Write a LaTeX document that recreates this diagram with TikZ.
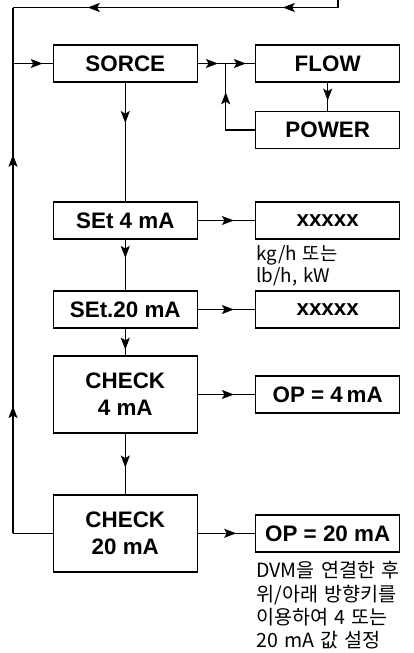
\documentclass[tikz,border=0pt]{standalone}
\usepackage{fontspec}
\setmainfont{Liberation Sans}
\newfontfamily\kr{Noto Sans CJK KR}[WordSpace=1.4]
\usetikzlibrary{arrows.meta, positioning, decorations.markings}

\begin{document}
\begin{tikzpicture}[
          x=0.5pt, y=-0.5pt,
          node distance=28.5pt,
          box/.style={rectangle, draw=black, line width=0.7pt, minimum width=72pt, minimum height=18.5pt, inner sep=0pt, align=center, font=\bfseries\fontsize{11.2}{13.5}\selectfont},
          tallbox/.style={box, minimum height=38.5pt},
          note/.style={anchor=north west, inner sep=0pt, align=left},
          line/.style={line width=0.7pt},
          midarrow/.style={postaction={decorate, decoration={markings, mark=at position #1 with {\arrow{Stealth[length=6pt, width=4.5pt, inset=1.3pt]}}}}}
        ]
          \useasboundingbox (0,0) rectangle (413,653);
          % left column
          \node[box] (sorce) at (125.3,63.5) {SORCE};
          \node[box, below=59.3pt of sorce] (set4) {SEt 4 mA};
          \node[box, below=25.3pt of set4] (set20) {SEt.20 mA};
          \node[tallbox, below=13.3pt of set20] (chk4) {CHECK\\4 mA};
          \node[tallbox, below=30.2pt of chk4] (chk20) {CHECK\\20 mA};
          % right column
          \node[box, right=of sorce] (flow) {FLOW};
          \node[box, below=14pt of flow] (power) {POWER};
          \node[box, right=of set4] (val4) {xxxxx};
          \node[box, right=of set20] (val20) {xxxxx};
          \node[box, right=of chk4] (op4) {OP = 4\,mA};
          \node[box, right=of chk20] (op20) {OP = 20 mA};
          % notes
          \node[note, font=\kr\fontsize{9.4}{6.8}\selectfont] (unit) at (256,245) {kg/h 또는\\lb/h, kW};
          \node[note, font=\kr\fontsize{9.8}{11.7}\selectfont] (hint) at (256,561) {DVM을 연결한 후\\위/아래 방향키를\\이용하여 4 또는\\20 mA 값 설정};
          % loop points
          \coordinate (top) at (338,0);
          \coordinate (tr) at (338,7.5);
          \coordinate (tl) at (13,7.5);
          \coordinate (jl) at (tl |- sorce.west);
          \coordinate (bl) at (tl |- chk20.west);
          \coordinate (jn) at (225.7,63.5);
          % connectors
          \draw[line] (top) -- (tr);
          \draw[line, midarrow=0.17, midarrow=0.77] (tr) -- (tl);
          \draw[line, midarrow=0.242, midarrow=0.72] (bl) -- (tl);
          \draw[line] (chk20.west) -- (bl);
          \draw[line, midarrow=0.75] (jl) -- (sorce.west);
          \draw[line, midarrow=0.35, midarrow=0.84] (sorce.east) -- (flow.west);
          \draw[line, midarrow=0.64] (flow.south) -- (power.north);
          \draw[line, midarrow=0.70] (power.west) -| (jn);
          \draw[line, midarrow=0.34] (sorce.south) -- (set4.north);
          \draw[line, midarrow=0.63] (set4.east) -- (val4.west);
          \draw[line, midarrow=0.36] (set4.south) -- (set20.north);
          \draw[line, midarrow=0.63] (set20.east) -- (val20.west);
          \draw[line, midarrow=0.79] (set20.south) -- (chk4.north);
          \draw[line, midarrow=0.63] (chk4.east) -- (op4.west);
          \draw[line, midarrow=0.56] (chk4.south) -- (chk20.north);
          \draw[line, midarrow=0.67] (chk20.east) -- (op20.west);
        \end{tikzpicture}
\end{document}
